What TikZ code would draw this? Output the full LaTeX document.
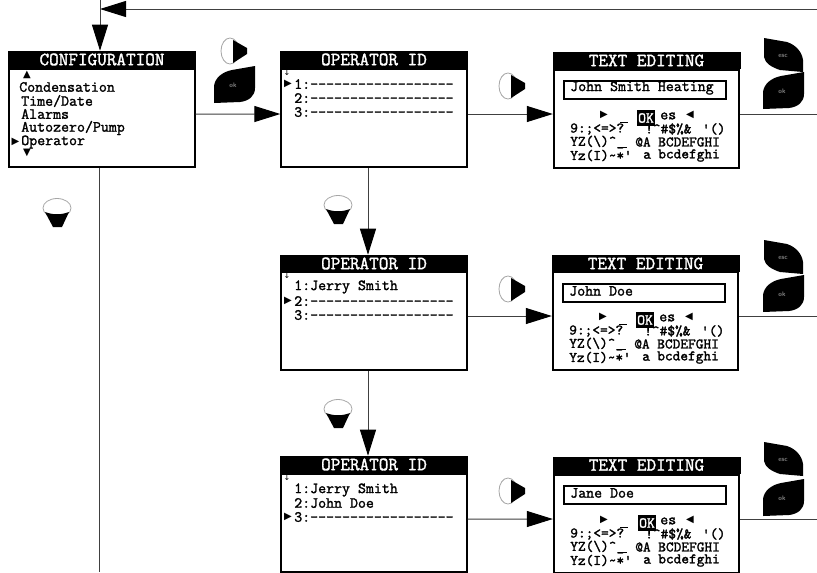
\documentclass[tikz,border=0pt]{standalone}
\usepackage{fontspec}
\usepackage{tikz}
\usetikzlibrary{arrows.meta}
\newfontfamily\symbfont{DejaVu Sans}
\newfontfamily\screenfont[FakeBold=1.6]{Latin Modern Mono}

\begin{document}
\begin{tikzpicture}[x=0.75pt, y=-0.75pt,
    title/.style={fill=black, text=white, minimum width=141pt, minimum height=12.75pt, inner sep=0pt, font=\screenfont\fontsize{14}{14}\selectfont},
    body/.style={draw=black, line width=1.5pt, fill=white, minimum width=139pt, minimum height=73.5pt, inner sep=0pt},
    row/.style={anchor=west, inner sep=0pt, font=\screenfont\fontsize{11.6}{12}\selectfont},
    chars/.style={anchor=west, inner sep=0pt, font=\screenfont\fontsize{11}{12}\selectfont},
    okmark/.style={fill=black, text=white, inner sep=0pt, minimum width=13.5pt, minimum height=12pt, font=\screenfont\fontsize{11.43}{12}\selectfont},
    field/.style={draw=black, line width=1.5pt, minimum width=122pt, minimum height=13.5pt, inner sep=0pt},
    glyph/.style={inner sep=0pt, font=\symbfont\fontsize{7.5}{8}\selectfont},
    scrollmark/.style={inner sep=0pt, font=\symbfont\fontsize{6}{7}\selectfont},
    keytext/.style={text=black!50, inner sep=0pt, font=\sffamily\bfseries\fontsize{5}{6}\selectfont},
    flow/.style={draw=black!75, line width=0.75pt, -{Triangle[length=19.5pt,width=12pt,color=black]}},
    plain/.style={draw=black!75, line width=0.75pt},
    keyright/.pic={
        \fill[white, draw=black!35, line width=0.6pt] (11,14) ellipse (9 and 13);
        \fill[black] (14,3) -- (28,11) -- (28,17) -- (14,26) -- cycle;
    },
    keydown/.pic={
        \fill[white, draw=black!35, line width=0.6pt] (14,10) ellipse (14 and 9.5);
        \fill[black] (2,14) .. controls (10,17) and (18,17) .. (26,14) -- (19,29) -- (10,29) -- cycle;
    },
    keyok/.pic={
        \fill[black] (41,0) -- (41,22) .. controls (41,30) and (35,35) .. (26,36) -- (0,37) -- (0,20) .. controls (1,12) and (8,6) .. (18,4) -- cycle;
        \node[keytext] (oklabel) at (19,19) {ok};
    },
    keyesc/.pic={
        \fill[black] (0,0) -- (23,4) .. controls (32,7) and (38,14) .. (39,22) -- (39,34) -- (16,32) .. controls (7,29) and (1,25) .. (0,19) -- cycle;
        \node[keytext] (esclabel) at (19,18) {esc};
    }]
    \clip (0,0) rectangle (817,572);
    \useasboundingbox (0,0) rectangle (817,572);
    \fill[white] (0,0) rectangle (817,572);

    % Free ends of the lines
    \coordinate (topin) at (100,0);
    \coordinate (backin) at (817,9);
    \coordinate (bottomout) at (99,572);
    \coordinate (out1) at (817,114);
    \coordinate (out2) at (817,316);
    \coordinate (out3) at (817,519);

    % Configuration menu
    \node[body] (config) at (102,117.5) {};
    \node[title] (configtitle) at (102,59.5) {CONFIGURATION};
    \node[glyph] (configup) at (27,75) {▲};
    \node[row] (condensation) at (19,87) {Condensation};
    \node[row] (timedate) at (21,101) {Time/Date};
    \node[row] (alarms) at (21,114) {Alarms};
    \node[row] (autozero) at (21,128) {Autozero/Pump};
    \node[row] (operator) at (21,142) {Operator};
    \node[glyph] (configcursor) at (15.5,142) {▶};
    \node[glyph] (configdown) at (27,153) {▼};

    % Operator ID, first line
    \node[body] (op1) at (374,118) {};
    \node[title] (op1title) at (374,59.5) {OPERATOR ID};
    \node[scrollmark] (op1scroll) at (287,73) {↓};
    \node[glyph] (op1cursor) at (288,84) {▶};
    \node[row] (op1a) at (294,84) {1:------------------};
    \node[row] (op1b) at (294,98) {2:------------------};
    \node[row] (op1c) at (294,112) {3:------------------};

    % Operator ID, second line
    \node[body] (op2) at (374,321) {};
    \node[title] (op2title) at (374,263.5) {OPERATOR ID};
    \node[scrollmark] (op2scroll) at (287,276) {↓};
    \node[glyph] (op2cursor) at (288,301) {▶};
    \node[row] (op2a) at (294,287) {1:Jerry Smith};
    \node[row] (op2b) at (294,301) {2:------------------};
    \node[row] (op2c) at (294,315) {3:------------------};

    % Operator ID, third line
    \node[body] (op3) at (374,522.5) {};
    \node[title] (op3title) at (374,464.5) {OPERATOR ID};
    \node[scrollmark] (op3scroll) at (287,478) {↓};
    \node[glyph] (op3cursor) at (288,517) {▶};
    \node[row] (op3a) at (294,490) {1:Jerry Smith};
    \node[row] (op3b) at (294,503) {2:John Doe};
    \node[row] (op3c) at (294,517) {3:------------------};

    % Text editing, first name
    \node[body] (te1) at (646.5,119) {};
    \node[title] (te1title) at (646.5,60.5) {TEXT EDITING};
    \node[field] (te1field) at (645,89.5) {};
    \node[row] (te1name) at (570,88) {John Smith Heating};
    \node[glyph] (te1left) at (604,115) {▶};
    \node[okmark] (te1ok) at (646,118) {OK};
    \node[row] (te1es) at (660,116) {es};
    \node[glyph] (te1right) at (690,115) {◀};
    \node[chars] (te1a) at (570,129) {9:;<=>?};
    \node[chars] (te1b) at (645,129) {!\textasciicircum\#\$\%\&};
    \node[chars] (te1c) at (702,129) {'()};
    \node[chars] (te1d) at (570,142) {YZ(\textbackslash)\textasciicircum\_};
    \node[chars] (te1e) at (635,142) {@A};
    \node[chars] (te1f) at (658,142) {BCDEFGHI};
    \node[chars] (te1g) at (570,155.5) {Yz(I)\textasciitilde*'};
    \node[chars] (te1h) at (643,155.5) {a};
    \node[chars] (te1i) at (658,155.5) {bcdefghi};
    \draw[black, line width=0.6pt] (620,122) -- (628,122) (618,147) -- (627,147);

    % Text editing, second name
    \node[body] (te2) at (645.5,321) {};
    \node[title] (te2title) at (645.5,263.5) {TEXT EDITING};
    \node[field] (te2field) at (644,292.5) {};
    \node[row] (te2name) at (569,291) {John Doe};
    \node[glyph] (te2left) at (603,317) {▶};
    \node[okmark] (te2ok) at (645,320) {OK};
    \node[row] (te2es) at (659,318) {es};
    \node[glyph] (te2right) at (689,317) {◀};
    \node[chars] (te2a) at (569,331) {9:;<=>?};
    \node[chars] (te2b) at (644,331) {!\textasciicircum\#\$\%\&};
    \node[chars] (te2c) at (701,331) {'()};
    \node[chars] (te2d) at (569,344) {YZ(\textbackslash)\textasciicircum\_};
    \node[chars] (te2e) at (634,344) {@A};
    \node[chars] (te2f) at (657,344) {BCDEFGHI};
    \node[chars] (te2g) at (569,357.5) {Yz(I)\textasciitilde*'};
    \node[chars] (te2h) at (642,357.5) {a};
    \node[chars] (te2i) at (657,357.5) {bcdefghi};
    \draw[black, line width=0.6pt] (619,324) -- (627,324) (617,349) -- (626,349);

    % Text editing, third name
    \node[body] (te3) at (646.5,524) {};
    \node[title] (te3title) at (646.5,465) {TEXT EDITING};
    \node[field] (te3field) at (645,495) {};
    \node[row] (te3name) at (570,493) {Jane Doe};
    \node[glyph] (te3left) at (604,520) {▶};
    \node[okmark] (te3ok) at (647,523) {OK};
    \node[row] (te3es) at (660,521) {es};
    \node[glyph] (te3right) at (690,520) {◀};
    \node[chars] (te3a) at (570,534) {9:;<=>?};
    \node[chars] (te3b) at (645,534) {!\textasciicircum\#\$\%\&};
    \node[chars] (te3c) at (702,534) {'()};
    \node[chars] (te3d) at (570,547) {YZ(\textbackslash)\textasciicircum\_};
    \node[chars] (te3e) at (635,547) {@A};
    \node[chars] (te3f) at (658,547) {BCDEFGHI};
    \node[chars] (te3g) at (570,560.5) {Yz(I)\textasciitilde*'};
    \node[chars] (te3h) at (643,560.5) {a};
    \node[chars] (te3i) at (658,560.5) {bcdefghi};
    \draw[black, line width=0.6pt] (620,527) -- (628,527) (618,552) -- (627,552);

    % Keys
    \pic at (219,37) {keyright};
    \pic at (214,66) {keyok};
    \pic at (43,198) {keydown};
    \pic at (497,72) {keyright};
    \pic at (324,195) {keydown};
    \pic at (497,275) {keyright};
    \pic at (324,399) {keydown};
    \pic at (497,477) {keyright};
    \pic at (764,38) {keyesc};
    \pic at (763,72) {keyok};
    \pic at (764,240) {keyesc};
    \pic at (763,275) {keyok};
    \pic at (764,442) {keyesc};
    \pic at (763,479) {keyok};

    % Lines
    \draw[flow] (backin) -- (topin |- backin);
    \draw[flow] (topin) -- (topin |- configtitle.north);
    \draw[plain] (bottomout |- config.south) -- (bottomout);
    \draw[flow] ([yshift=2.6pt]config.east) -- ([yshift=3pt]op1.west);
    \draw[flow] ([yshift=3pt]op1.east) -- ([yshift=3.75pt]te1.west);
    \draw[flow] ([xshift=-4.5pt]op1.south) -- ([xshift=-4.5pt]op2title.north);
    \draw[flow] ([yshift=3.75pt]op2.east) -- ([yshift=3.75pt]te2.west);
    \draw[flow] ([xshift=-4.5pt]op2.south) -- ([xshift=-4.5pt]op3title.north);
    \draw[flow] ([yshift=2.6pt]op3.east) -- ([yshift=3.75pt]te3.west);
    \draw[plain] (out1 -| te1.east) -- (out1);
    \draw[plain] (out2 -| te2.east) -- (out2);
    \draw[plain] (out3 -| te3.east) -- (out3);
\end{tikzpicture}
\end{document}
